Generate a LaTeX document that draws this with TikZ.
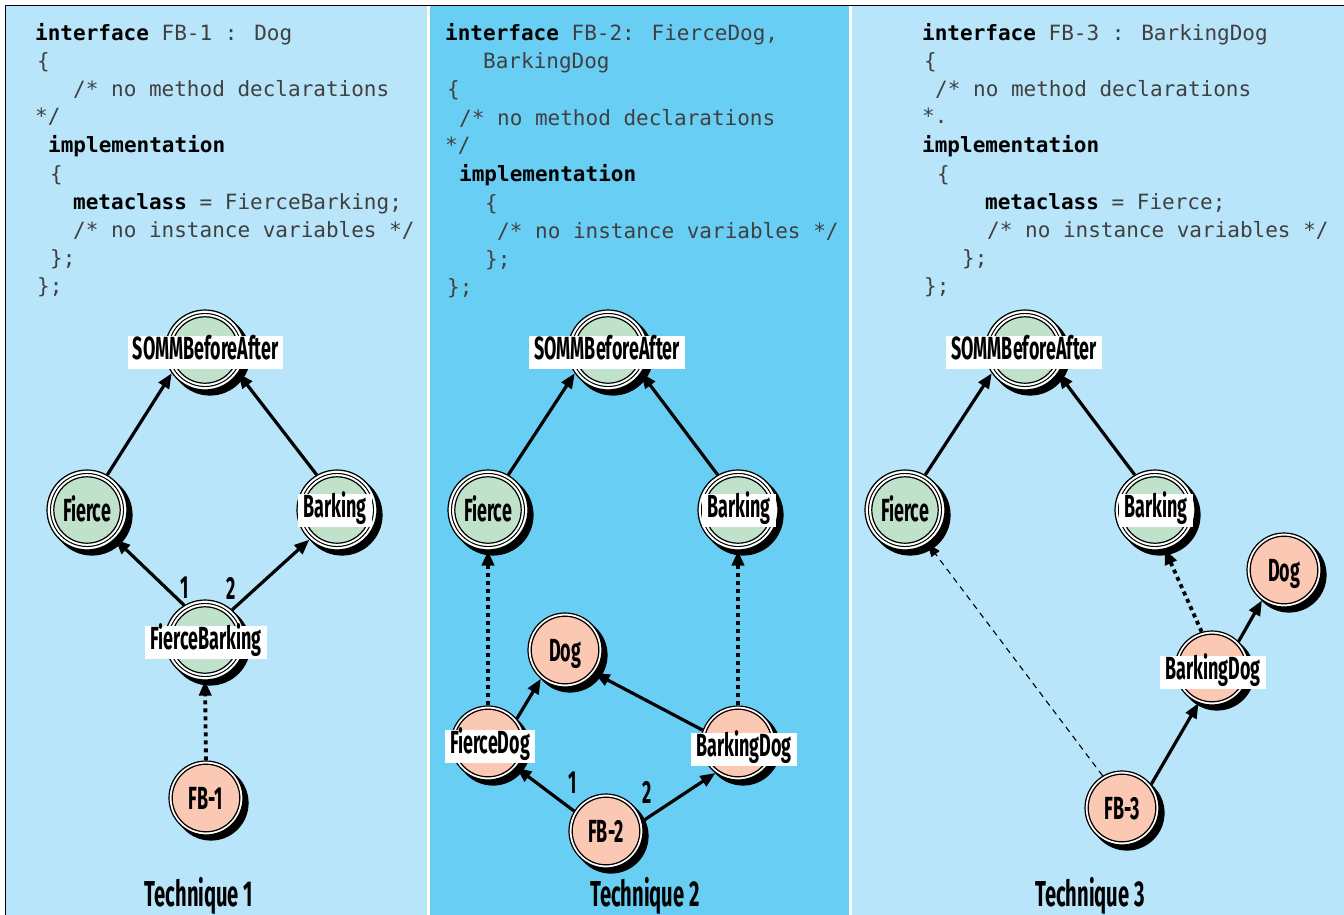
\documentclass[tikz,border=0pt]{standalone}
\usepackage{fontspec}
\usetikzlibrary{arrows.meta}
\newfontfamily\codef{DejaVu Sans Mono}
\newfontfamily\labf[FakeStretch=0.56]{Fira Sans}
\definecolor{lblue}{HTML}{B8E5F9}
\definecolor{dblue}{HTML}{69CEF4}
\definecolor{gfill}{HTML}{C0E2CB}
\definecolor{pfill}{HTML}{FBC8B4}
\definecolor{codegray}{HTML}{404040}
\newcommand\kw[1]{{\bfseries\color{black}#1}}
\newcommand\lbl{\labf\bfseries\fontsize{32pt}{34pt}\selectfont}
\newcommand\tlbl{\labf\bfseries\fontsize{36pt}{38pt}\selectfont}
\tikzset{
  code/.style={anchor=base west, inner sep=0pt, text=codegray, font={\codef\fontsize{21pt}{24pt}\selectfont}},
  gcirc/.style={circle, inner sep=0pt, minimum size=80pt, draw=black, line width=1.2pt, fill=gfill,
    text height=22pt, text depth=0pt, font=\lbl,
    path picture={
      \draw[white, line width=2pt] (path picture bounding box.center) circle (38pt);
      \draw[black, line width=1.2pt] (path picture bounding box.center) circle (36.4pt);
      \draw[white, line width=2pt] (path picture bounding box.center) circle (34.8pt);
      \draw[black, line width=1.2pt] (path picture bounding box.center) circle (33.2pt);}},
  pcirc/.style={circle, inner sep=0pt, minimum size=74pt, draw=black, line width=1.2pt, fill=pfill,
    text height=22pt, text depth=0pt, font=\lbl,
    path picture={
      \draw[white, line width=2pt] (path picture bounding box.center) circle (35.4pt);
      \draw[black, line width=1.2pt] (path picture bounding box.center) circle (33.8pt);}},
  lbox/.style={fill=white, inner xsep=5pt, inner ysep=2pt, text height=22pt, text depth=7pt, font=\lbl},
  num/.style={inner sep=0pt, font=\lbl},
  tech/.style={anchor=base, inner sep=0pt, font=\tlbl},
  arr/.style={line width=3.2pt, -{Triangle[length=15pt,width=12pt]}},
  dotarr/.style={line width=3.8pt, dash pattern=on 4pt off 4pt, -{Triangle[length=15pt,width=12pt]}},
  thinarr/.style={line width=1.1pt, dash pattern=on 6pt off 5pt, -{Triangle[length=13pt,width=10pt]}},
}
\newcommand\gn[4]{\fill[black] ({#2+5},{#3+5}) circle (40.6pt); \node[gcirc] (#1) at (#2,#3) {#4};}
\newcommand\pn[4]{\fill[black] ({#2+5},{#3+5}) circle (37.6pt); \node[pcirc] (#1) at (#2,#3) {#4};}
\begin{document}
\begin{tikzpicture}[x=1pt,y=-1pt]
\useasboundingbox (0,0) rectangle (1344,915);
% backgrounds
\fill[white] (0,0) rectangle (1344,915);
\fill[lblue] (6,6) rectangle (427,915);
\fill[dblue] (430,6) rectangle (849,915);
\fill[lblue] (852,6) rectangle (1344,915);
\draw[line width=1.5pt] (5.5,915) -- (5.5,5.5) -- (1344,5.5);

% ---------- code panel 1
\node[code] (c1a) at (35,41) {\kw{interface} FB-1 : Dog};
\node[code] (c1b) at (37,69) {\{};
\node[code] (c1c) at (73,97) {/* no method declarations};
\node[code] (c1d) at (35,124) {*/};
\node[code] (c1e) at (48,153) {\kw{implementation}};
\node[code] (c1f) at (50,181) {\{};
\node[code] (c1g) at (73,209) {\kw{metaclass} = FierceBarking;};
\node[code] (c1h) at (73,237) {/* no instance variables */};
\node[code] (c1i) at (50,265) {\};};
\node[code] (c1j) at (37,293) {\};};
% ---------- code panel 2
\node[code] (c2a) at (445,41) {\kw{interface} FB-2: FierceDog,};
\node[code] (c2b) at (483,69) {BarkingDog};
\node[code] (c2c) at (447,97) {\{};
\node[code] (c2d) at (459,126) {/* no method declarations};
\node[code] (c2e) at (445,153) {*/};
\node[code] (c2f) at (459,182) {\kw{implementation}};
\node[code] (c2g) at (485,210) {\{};
\node[code] (c2h) at (497,238) {/* no instance variables */};
\node[code] (c2i) at (485,266) {\};};
\node[code] (c2j) at (447,294) {\};};
% ---------- code panel 3
\node[code] (c3a) at (922,41) {\kw{interface} FB-3 : BarkingDog};
\node[code] (c3b) at (924,69) {\{};
\node[code] (c3c) at (935,97) {/* no method declarations};
\node[code] (c3d) at (922,124) {*.};
\node[code] (c3e) at (922,153) {\kw{implementation}};
\node[code] (c3f) at (937,181) {\{};
\node[code] (c3g) at (985,209) {\kw{metaclass} = Fierce;};
\node[code] (c3h) at (987,237) {/* no instance variables */};
\node[code] (c3i) at (962,265) {\};};
\node[code] (c3j) at (924,293) {\};};

% ---------- panel 1 nodes
\gn{s1}{205}{350}{}
\gn{f1}{87}{510}{Fierce}
\gn{b1}{337}{510}{}
\gn{fb1}{205}{640}{}
\pn{x1}{206}{798}{FB-1}
% ---------- panel 2 nodes
\gn{s2}{608}{350}{}
\gn{f2}{488}{510}{Fierce}
\gn{b2}{738}{510}{}
\pn{d2}{565}{650}{Dog}
\pn{fd2}{488}{743}{}
\pn{bd2}{738}{743}{}
\pn{x2}{606}{831}{FB-2}
% ---------- panel 3 nodes
\gn{s3}{1025}{350}{}
\gn{f3}{905}{510}{Fierce}
\gn{b3}{1155}{510}{}
\pn{d3}{1284}{570}{Dog}
\pn{bd3}{1212}{668}{}
\pn{x3}{1122}{808}{FB-3}

% ---------- edges panel 1
\draw[arr] (f1.60) -- (s1.215);
\draw[arr] (b1.120) -- (s1.325);
\draw[arr] (fb1.121) -- (f1.314);
\draw[arr] (fb1.48) -- (b1.227);
\draw[dotarr] (x1.90) -- (fb1.270);
% ---------- edges panel 2
\draw[arr] (f2.60) -- (s2.215);
\draw[arr] (b2.120) -- (s2.325);
\draw[dotarr] (fd2.90) -- (f2.270);
\draw[dotarr] (bd2.90) -- (b2.270);
\draw[arr] (fd2.40) -- (d2.230);
\draw[arr] (bd2.160) -- (d2.322);
\draw[arr] (x2.148) -- (fd2.319);
\draw[arr] (x2.15) -- (bd2.233);
% ---------- edges panel 3
\draw[arr] (f3.60) -- (s3.215);
\draw[arr] (b3.120) -- (s3.325);
\draw[thinarr] (x3.121) -- (f3.304);
\draw[dotarr] (bd3.106) -- (b3.284);
\draw[arr] (bd3.45) -- (d3.234);
\draw[arr] (x3.39) -- (bd3.249);

% ---------- label boxes
\node[lbox] (s1l) at (205.5,352) {SOMMBeforeAfter};
\node[lbox] (b1l) at (335,510) {Barking};
\node[lbox] (fb1l) at (206,642) {FierceBarking};
\node[lbox] (s2l) at (607,352) {SOMMBeforeAfter};
\node[lbox] (b2l) at (739,510) {Barking};
\node[lbox] (fd2l) at (490,746) {FierceDog};
\node[lbox] (bd2l) at (744,749) {BarkingDog};
\node[lbox] (s3l) at (1024,352) {SOMMBeforeAfter};
\node[lbox] (b3l) at (1156,510) {Barking};
\node[lbox] (bd3l) at (1213,672) {BarkingDog};

% ---------- numbers
\node[num] (n1a) at (185,588) {1};
\node[num] (n1b) at (231,588) {2};
\node[num] (n2a) at (573,783) {1};
\node[num] (n2b) at (647,792) {2};

% ---------- titles
\node[tech] (t1) at (199,906) {Technique 1};
\node[tech] (t2) at (645,906) {Technique 2};
\node[tech] (t3) at (1090,906) {Technique 3};
\end{tikzpicture}
\end{document}
